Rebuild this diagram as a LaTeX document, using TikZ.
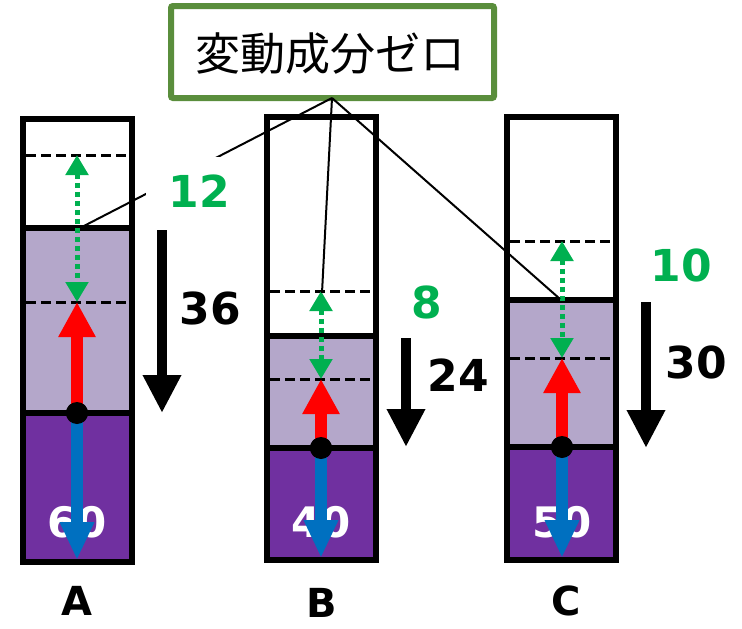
\documentclass[tikz,border=0pt]{standalone}
\usepackage{fontspec}
\setmainfont{DejaVu Sans}
\newfontfamily\jpfont{Noto Sans CJK JP}
\usetikzlibrary{arrows.meta}
\definecolor{lav}{HTML}{B4A7CA}
\definecolor{dpur}{HTML}{7030A0}
\definecolor{gr}{HTML}{00B050}
\definecolor{boxgr}{HTML}{5A8E3C}
\definecolor{bl}{HTML}{0070C0}
\definecolor{rd}{HTML}{FF0000}
\tikzset{
  frame/.style={line width=6pt, draw=black},
  dline/.style={line width=3pt, dash pattern=on 10pt off 5pt},
  garrow/.style={gr, line width=5pt, dash pattern=on 5pt off 4pt,
    {Triangle[width=22pt,length=20pt]}-{Triangle[width=22pt,length=20pt]}},
  rarrow/.style={rd, line width=12pt, -{Triangle[width=35pt,length=35pt]}},
  barrow/.style={bl, line width=12pt, -{Triangle[width=32pt,length=38pt]}},
  karrow/.style={black, line width=10pt, -{Triangle[width=36pt,length=38pt]}},
  gnum/.style={text=gr, font=\bfseries\fontsize{44}{44}\selectfont},
  knum/.style={text=black, font=\bfseries\fontsize{44}{44}\selectfont},
  wnum/.style={text=white, font=\bfseries\fontsize{42}{42}\selectfont},
  lbl/.style={text=black, font=\bfseries\fontsize{40}{40}\selectfont},
  callout/.style={line width=2pt, black},
  dotc/.style={fill=black, circle, minimum size=22pt, inner sep=0pt},
}
\begin{document}
\begin{tikzpicture}[x=1pt,y=-1pt]
\useasboundingbox (0,0) rectangle (742,629);
% ---------- column A ----------
\fill[lav] (23,228) rectangle (132,413);
\fill[dpur] (23,413) rectangle (132,562);
\draw[dline] (26,155) -- (129,155);
\draw[dline] (26,302) -- (129,302);
\draw[frame] (23,228) -- (132,228);
\draw[frame] (23,413) -- (132,413);
\draw[frame] (23,119) rectangle (132,562);
\node[wnum] (n60) at (77,522) {60};
\coordinate (Atop) at (77,155);
\coordinate (Amid) at (77,302);
\coordinate (Abot) at (77,560);
\coordinate (Acall) at (80,228);
\node[dotc] (Adot) at (77,413) {};
\draw[rarrow] (Adot.center) -- (Amid);
\draw[barrow] (Adot.center) -- (Abot);
\draw[garrow] (Atop) -- (Amid);
\node[dotc] at (77,413) {};
\coordinate (Ak1) at (162,230);
\coordinate (Ak2) at (162,413);
\draw[karrow] (Ak1) -- (Ak2);
\node[knum] (n36) at (210,308) {36};
% ---------- column B ----------
\fill[lav] (267,336) rectangle (376,448);
\fill[dpur] (267,448) rectangle (376,560);
\draw[dline] (270,291) -- (373,291);
\draw[dline] (270,379) -- (373,379);
\draw[frame] (267,336) -- (376,336);
\draw[frame] (267,448) -- (376,448);
\draw[frame] (267,117) rectangle (376,560);
\node[wnum] (n40) at (321,522) {40};
\coordinate (Btop) at (321,291);
\coordinate (Bmid) at (321,379);
\coordinate (Bbot) at (321,558);
\node[dotc] (Bdot) at (321,448) {};
\draw[rarrow] (Bdot.center) -- (Bmid);
\draw[barrow] (Bdot.center) -- (Bbot);
\draw[garrow] (Btop) -- (Bmid);
\node[dotc] at (321,448) {};
\coordinate (Bk1) at (406,338);
\coordinate (Bk2) at (406,447);
\draw[karrow] (Bk1) -- (Bk2);
\node[knum] (n24) at (458,375) {24};
\node[gnum] (n8) at (427,302) {8};
% ---------- column C ----------
\fill[lav] (507,300) rectangle (616,447);
\fill[dpur] (507,447) rectangle (616,560);
\draw[dline] (510,241) -- (613,241);
\draw[dline] (510,358) -- (613,358);
\draw[frame] (507,300) -- (616,300);
\draw[frame] (507,447) -- (616,447);
\draw[frame] (507,117) rectangle (616,560);
\node[wnum] (n50) at (562,522) {50};
\coordinate (Ctop) at (562,241);
\coordinate (Cmid) at (562,358);
\coordinate (Cbot) at (562,558);
\node[dotc] (Cdot) at (562,447) {};
\draw[rarrow] (Cdot.center) -- (Cmid);
\draw[barrow] (Cdot.center) -- (Cbot);
\draw[garrow] (Ctop) -- (Cmid);
\node[dotc] at (562,447) {};
\coordinate (Ck1) at (646,302);
\coordinate (Ck2) at (646,448);
\draw[karrow] (Ck1) -- (Ck2);
\node[knum] (n30) at (696,362) {30};
\node[gnum] (n10) at (681,265) {10};
% ---------- callout ----------
\node[draw=boxgr, line width=6pt, fill=white, minimum width=323pt,
      minimum height=92pt, inner sep=0pt, rounded corners=2pt] (zero) at (332.5,52) {};
\node[font=\jpfont\fontsize{45}{45}\selectfont] (ztext) at (330,54) {変動成分ゼロ};
\coordinate (zp) at (332,98);
\coordinate (Bcall) at (322,293);
\coordinate (Ccall) at (560,299);
\draw[callout] (zp) -- (Acall);
\draw[callout] (zp) -- (Bcall);
\draw[callout] (zp) -- (Ccall);
\node[gnum, fill=white, inner xsep=22pt, inner ysep=18pt] (n12) at (199,191) {12};
% ---------- labels ----------
\node[lbl] (lA) at (77,601) {A};
\node[lbl] (lB) at (322,603) {B};
\node[lbl] (lC) at (566,601) {C};
\end{tikzpicture}
\end{document}
